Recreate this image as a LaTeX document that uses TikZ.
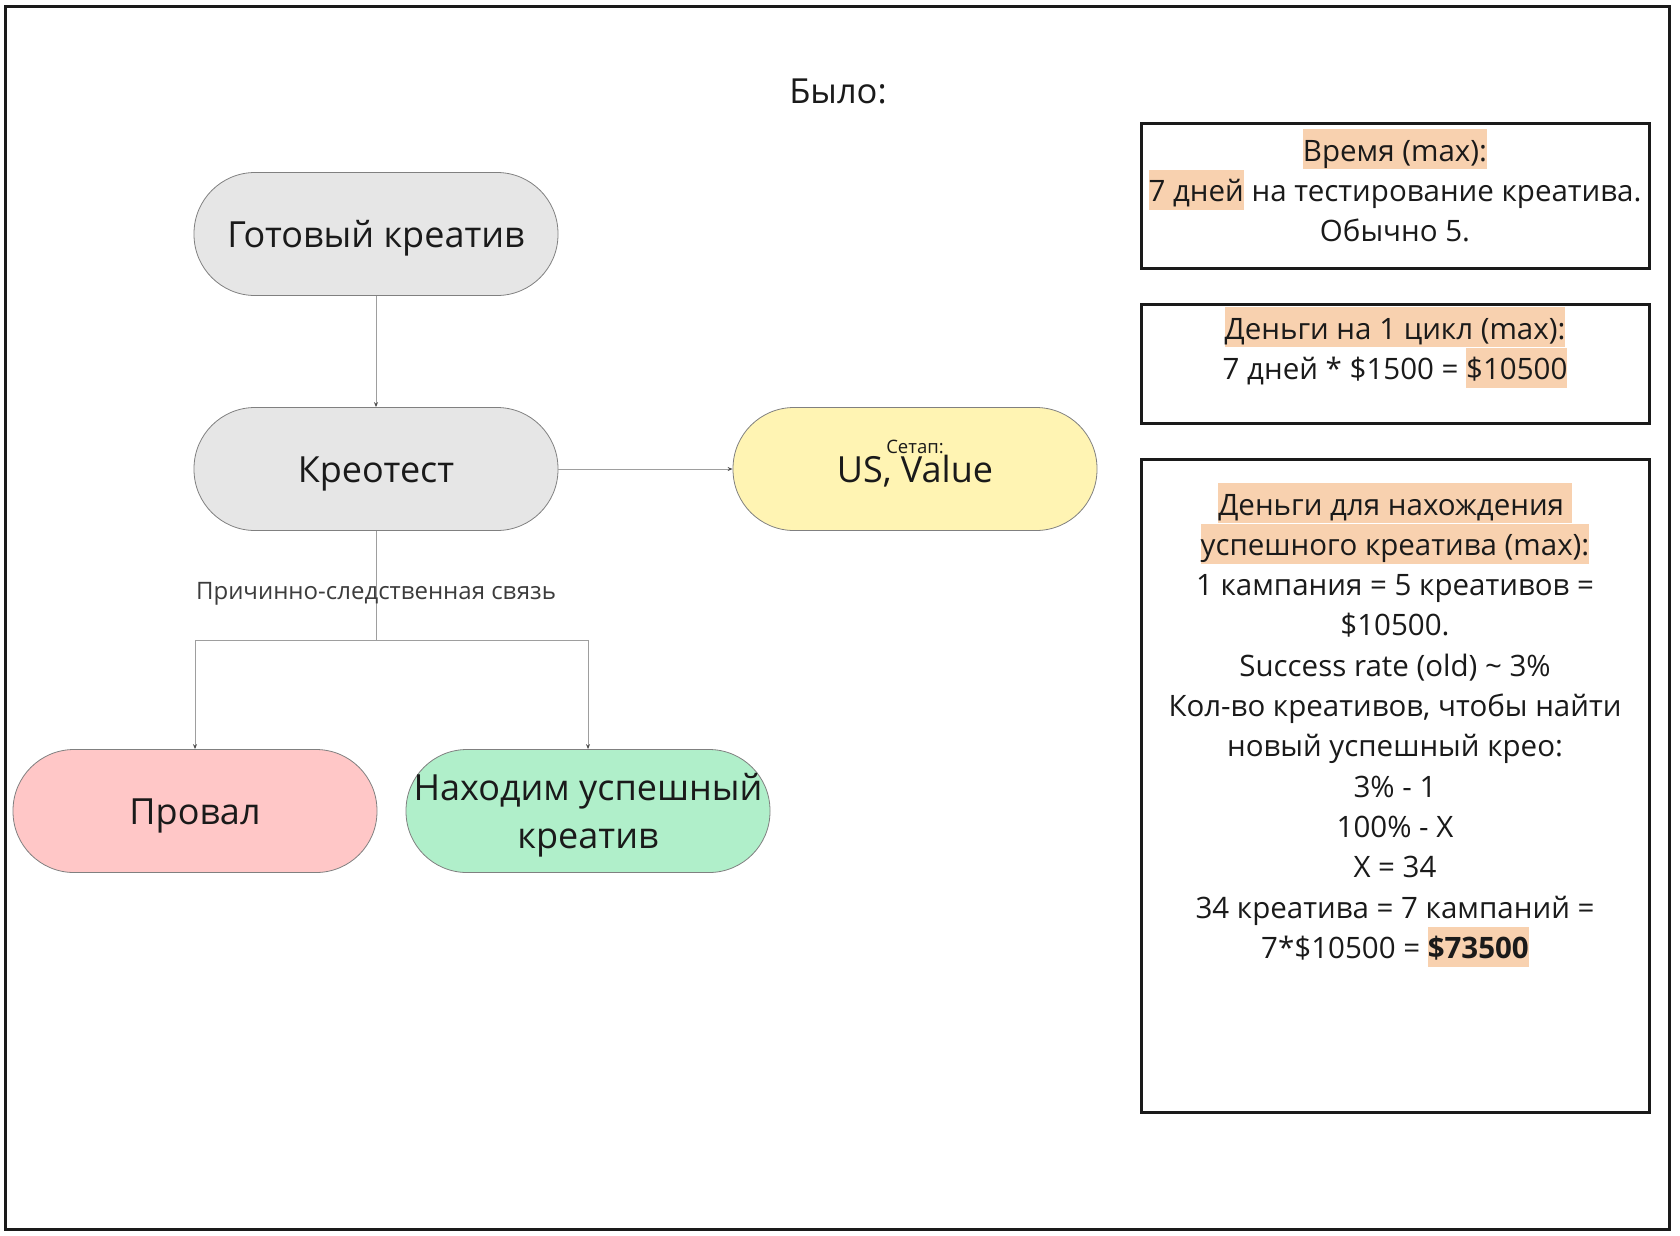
\documentclass[tikz,border=0pt]{standalone}
\usepackage{fontspec}
\setmainfont{Open Sans}
\usetikzlibrary{arrows.meta}
\definecolor{ink}{HTML}{1A1A1A}
\definecolor{pillgray}{HTML}{E6E6E6}
\definecolor{pillyel}{HTML}{FFF4B3}
\definecolor{pillpink}{HTML}{FFC7C7}
\definecolor{pillgreen}{HTML}{B0EFCA}
\definecolor{pillborder}{HTML}{808080}
\definecolor{connc}{HTML}{9E9E9E}
\definecolor{hlc}{HTML}{F8D1AF}
\newcommand\hlt[1]{{\setlength\fboxsep{0pt}\colorbox{hlc}{\rule[-0.28em]{0pt}{1.36em}#1}}}
\begin{document}
\begin{tikzpicture}[x=1pt,y=-1pt,
  pill/.style={draw=pillborder,line width=0.8pt,rounded corners=61pt,
    minimum width=364pt,minimum height=123pt,inner sep=0pt,
    text=ink,font=\fontsize{36}{48}\selectfont,text height=27pt,text depth=0pt},
  conn/.style={draw=connc,line width=1pt},
  tip/.style={-{Stealth[length=5pt,width=4pt,color=black!70]}},
  infobox/.style={draw=ink,line width=3pt,minimum width=508pt,inner sep=0pt},
  infotext/.style={align=center,inner sep=0pt,text=ink,anchor=north,
    font=\fontsize{29.5}{40.3}\selectfont},
  frame/.style={draw=ink,line width=3pt}
]
\useasboundingbox (0,0) rectangle (1680,1235);
\fill[white] (0,0) rectangle (1680,1235);
\draw[frame] (5.5,6.5) rectangle (1669.5,1229);

\node[anchor=base,text=ink,font=\fontsize{34.5}{44}\selectfont] (title) at (838,103) {Было:};

\node[pill,fill=pillgray] (ready) at (376,234) {Готовый креатив};
\node[pill,fill=pillgray] (kreo) at (376,469) {Креотест};
\node[pill,fill=pillyel] (setup) at (915,469) {US, Value};
\node[anchor=base,text=ink,font=\fontsize{18.5}{22}\selectfont,inner sep=0pt] (setuplbl) at (915,453) {Сетап:};
\node[pill,fill=pillpink] (fail) at (195,811) {Провал};
\node[pill,fill=pillgreen,text height=0pt,text depth=22pt] (succ) at (588,811)
  {\begin{tabular}[t]{@{}c@{}}Находим успешный\\креатив\end{tabular}};

\draw[conn,tip] (ready.south) -- (kreo.north);
\draw[conn,tip] (kreo.east) -- (setup.west);
\coordinate (split) at (376,640);
\draw[conn] (kreo.south) -- (split);
\node[anchor=base,text=ink!85,font=\fontsize{24}{30}\selectfont,inner sep=0pt] (cause) at (376,599) {Причинно-следственная связь};
\draw[conn,tip] (split) -| (fail.north);
\draw[conn,tip] (split) -| (succ.north);

\node[infobox,minimum height=145pt] (box1) at (1395,195.5) {};
\node[infotext] (text1) at (1395,129)
  {\hlt{Время (max):}\\\hlt{7 дней} на тестирование креатива.\\Обычно 5.};

\node[infobox,minimum height=119pt] (box2) at (1395,363.5) {};
\node[infotext] (text2) at (1395,307)
  {\hlt{Деньги на 1 цикл (max):}\\7 дней * \$1500 = \hlt{\$10500}};

\node[infobox,minimum height=653pt] (box3) at (1395,785.5) {};
\node[infotext] (text3) at (1395,483)
  {\hlt{Деньги для нахождения\ }\\
   \hlt{успешного креатива (max):}\\
   1 кампания = 5 креативов =\\
   \$10500.\\
   Success rate (old) \textasciitilde{} 3\%\\
   Кол-во креативов, чтобы найти\\
   новый успешный крео:\\
   3\% - 1\\
   100\% - X\\
   X = 34\\
   34 креатива = 7 кампаний =\\
   7*\$10500 = \hlt{\textbf{\$73500}}};
\end{tikzpicture}
\end{document}
